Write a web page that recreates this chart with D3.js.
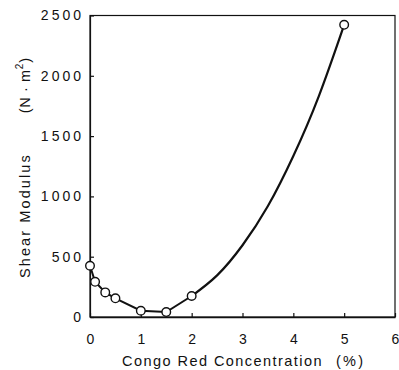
<!DOCTYPE html>
<html><head><meta charset="utf-8">
<script src="https://cdn.jsdelivr.net/npm/d3@7"></script>
<style>
body{margin:0;background:#fff;}
svg text{font-family:"Liberation Sans",Arial,Helvetica,sans-serif;fill:#111;}
</style></head>
<body><svg id="c" width="399" height="370"></svg>
<script>
const concentration = [0, 0.1, 0.3, 0.5, 1, 1.5, 2, 5];
const shearModulus = [425, 292, 204, 155, 52, 41, 174, 2423];
const fitX = [2, 2.5, 3, 3.5, 4, 4.5, 5];
const fitY = [174, 345, 595, 920, 1335, 1830, 2423];
const xTicks = [0, 1, 2, 3, 4, 5, 6];
const yTicks = [0, 500, 1000, 1500, 2000, 2500];

const svg = d3.select("#c");
const L = 90, R = 395, T = 15.5, B = 317;
const x = d3.scaleLinear().domain([0, 6]).range([L, R]);
const y = d3.scaleLinear().domain([0, 2500]).range([B, T]);

// frame
svg.append("rect").attr("x", L).attr("y", T).attr("width", R - L).attr("height", B - T)
  .attr("fill", "none").attr("stroke", "#111").attr("stroke-width", 1.2);

// x axis
const xa = svg.append("g").attr("transform", `translate(0,${B})`)
  .call(d3.axisBottom(x).tickValues(xTicks).tickSizeInner(-4).tickSizeOuter(0).tickPadding(20).tickFormat(d3.format("d")));
xa.select(".domain").attr("stroke", "#111").attr("stroke-width", 1.5);
xa.selectAll(".tick line").attr("stroke", "#111").attr("stroke-width", 1.2);
xa.selectAll("text").attr("font-size", 14).attr("fill", "#111").attr("dy", "0").attr("y", 27);

// y axis
const ya = svg.append("g").attr("transform", `translate(${L},0)`)
  .call(d3.axisLeft(y).tickValues(yTicks).tickSizeInner(-4).tickSizeOuter(0).tickPadding(9).tickFormat(d3.format("d")));
ya.select(".domain").attr("stroke", "#111").attr("stroke-width", 1.2);
ya.selectAll(".tick line").attr("stroke", "#111").attr("stroke-width", 1.2);
ya.selectAll("text").attr("font-size", 14).attr("letter-spacing", 3).attr("fill", "#111").attr("x", -6);

// axis titles
const xt = svg.append("text").attr("x", 122).attr("y", 366).attr("font-size", 14.5);
xt.append("tspan").attr("letter-spacing", 1.45).text("Congo Red Concentration");
xt.append("tspan").attr("dx", 13).attr("letter-spacing", 2.2).text("(%)");

const yt = svg.append("text").attr("transform", "translate(30,278) rotate(-90)").attr("font-size", 14.5);
yt.append("tspan").attr("letter-spacing", 2.1).text("Shear Modulus");
yt.append("tspan").attr("dx", 40).attr("letter-spacing", 0.6).text("(N · m");
yt.append("tspan").attr("font-size", 10).attr("dy", -7).text("2");
yt.append("tspan").attr("dy", 7).attr("dx", 1).text(")");

// line through data (0..2 linear)
const pts = concentration.map((c, i) => [c, shearModulus[i]]).filter(d => d[0] <= 2);
svg.append("path").datum(pts)
  .attr("d", d3.line().x(d => x(d[0])).y(d => y(d[1])))
  .attr("fill", "none").attr("stroke", "#111").attr("stroke-width", 2);

// fitted curve 2..5
const fit = fitX.map((c, i) => [c, fitY[i]]);
svg.append("path").datum(fit)
  .attr("d", d3.line().curve(d3.curveNatural).x(d => x(d[0])).y(d => y(d[1])))
  .attr("fill", "none").attr("stroke", "#111").attr("stroke-width", 2.2);

// markers
svg.selectAll("circle.pt").data(concentration).enter().append("circle")
  .attr("cx", d => x(d)).attr("cy", (d, i) => y(shearModulus[i])).attr("r", 4.3)
  .attr("fill", "#fff").attr("stroke", "#111").attr("stroke-width", 1.4);
</script></body></html>
